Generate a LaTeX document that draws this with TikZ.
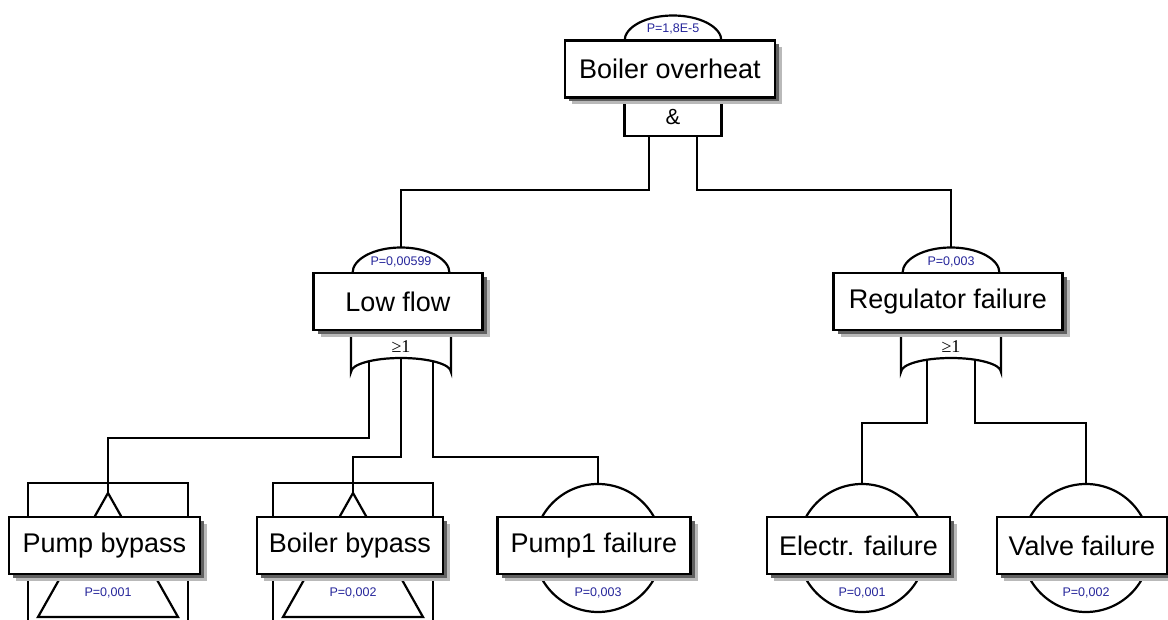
\documentclass[tikz,border=0pt]{standalone}
\usepackage{fontspec}
\setmainfont{Liberation Sans}
\newfontfamily\gatefont{Liberation Serif}
\usetikzlibrary{calc,shadows}
\definecolor{probblue}{RGB}{38,38,155}

\tikzset{
    evbox/.style={draw, line width=2.5pt, fill=white, minimum height=57pt, inner sep=0pt,
        font=\fontsize{27}{30}\selectfont,
        general shadow={fill=gray!55, shadow xshift=7pt, shadow yshift=-7pt},
        general shadow={fill=black!62, shadow xshift=4pt, shadow yshift=-4pt}},
    prob/.style={text=probblue, inner sep=0pt, font=\fontsize{12.5}{14}\selectfont},
    sym/.style={line width=2.2pt},
    wire/.style={line width=2.2pt},
}

\begin{document}
\begin{tikzpicture}[x=1pt, y=1pt]
    \useasboundingbox (0,0) rectangle (1168,619);

    \coordinate (T) at (673,578);
    \coordinate (LF) at (401,346);
    \coordinate (RF) at (951,346);
    \coordinate (PB) at (108,71);
    \coordinate (BB) at (353,71);
    \coordinate (P1) at (598,71);
    \coordinate (EF) at (862,71);
    \coordinate (VF) at (1086,71);

    % heights of the horizontal runs
    \coordinate (hT) at (0,429);
    \coordinate (hL1) at (0,181);
    \coordinate (hL2) at (0,162);
    \coordinate (hR) at (0,196);

    \coordinate (Tout1) at ($(T)+(-24,-95)$);
    \coordinate (Tout2) at ($(T)+(24,-95)$);
    \coordinate (LFin) at ($(LF)+(0,25.5)$);
    \coordinate (RFin) at ($(RF)+(0,25.5)$);
    \coordinate (LFout1) at ($(LF)+(0,-99)+(129.8:50 and 14)$);
    \coordinate (LFout2) at ($(LF)+(0,-99)+(90:50 and 14)$);
    \coordinate (LFout3) at ($(LF)+(0,-99)+(50.2:50 and 14)$);
    \coordinate (RFout1) at ($(RF)+(0,-99)+(118.7:50 and 14)$);
    \coordinate (RFout2) at ($(RF)+(0,-99)+(61.3:50 and 14)$);
    \coordinate (PBin) at ($(PB)+(0,55)$);
    \coordinate (BBin) at ($(BB)+(0,55)$);
    \coordinate (P1in) at ($(P1)+(0,64)$);
    \coordinate (EFin) at ($(EF)+(0,64)$);
    \coordinate (VFin) at ($(VF)+(0,64)$);

    \foreach \a/\b/\h in {Tout1/LFin/hT, Tout2/RFin/hT, LFout1/PBin/hL1, LFout2/BBin/hL2,
        LFout3/P1in/hL2, RFout1/EFin/hR, RFout2/VFin/hR}
        \draw[wire] (\a) -- (\a |- \h) -| (\b);

    \foreach \g in {T,LF,RF}
        \draw[sym, fill=white] ($(\g)+(-48.5,0)$) arc[start angle=180, end angle=0, x radius=48.5, y radius=25.5];

    % and gate
    \draw[sym, fill=white] ($(T)+(-48.5,-56)$) rectangle ($(T)+(48.5,-95)$);
    % or gates
    \foreach \g in {LF,RF}
        \draw[sym] ($(\g)+(-50,-57)$) -- ($(\g)+(-50,-99)$)
            arc[start angle=180, end angle=0, x radius=50, y radius=14] -- ($(\g)+(50,-57)$);

    \foreach \e in {P1,EF,VF}
        \draw[sym, fill=white] (\e) circle (64);

    % transfer in
    \foreach \e in {PB,BB} {
        \draw[sym] ($(\e)+(-80,-80)$) -- ($(\e)+(-80,65)$) -- ($(\e)+(80,65)$) -- ($(\e)+(80,-80)$);
        \draw[sym, fill=white] ($(\e)+(0,55)$) -- ($(\e)+(-70,-69)$) -- ($(\e)+(70,-69)$) -- cycle;
    }

    \node[evbox, minimum width=210pt] (top) at ($(T)+(-3,-28)$) {Boiler overheat};
    \node[evbox, minimum width=169pt] (lowflow) at ($(LF)+(-3,-28.5)$) {Low flow};
    \node[evbox, minimum width=229pt] (regfail) at ($(RF)+(-3,-28.5)$) {Regulator failure};
    \node[evbox, minimum width=191pt] (pumpbyp) at ($(PB)+(-3.5,2.5)$) {Pump bypass};
    \node[evbox, minimum width=186pt] (boilbyp) at ($(BB)+(-3,2.5)$) {Boiler bypass};
    \node[evbox, minimum width=193pt] (pumpfail) at ($(P1)+(-4,2.5)$) {Pump1 failure};
    \node[evbox, minimum width=183pt] (electrfail) at ($(EF)+(-3.5,2.5)$) {Electr. failure};
    \node[evbox, minimum width=170pt] (valvefail) at ($(VF)+(-4,2.5)$) {Valve failure};

    \node[font=\fontsize{22}{24}\selectfont, inner sep=0pt] (andsign) at ($(T)+(0,-76)$) {\&};
    \node[font=\gatefont\fontsize{18}{20}\selectfont, inner sep=0pt] (lfor) at ($(LF)+(0,-74)$) {≥1};
    \node[font=\gatefont\fontsize{18}{20}\selectfont, inner sep=0pt] (rfor) at ($(RF)+(0,-74)$) {≥1};

    \node[prob] (Tp) at ($(T)+(0,12)$) {P=1,8E-5};
    \node[prob] (LFp) at ($(LF)+(0,11)$) {P=0,00599};
    \node[prob] (RFp) at ($(RF)+(0,11)$) {P=0,003};
    \node[prob] (PBp) at ($(PB)+(0,-45)$) {P=0,001};
    \node[prob] (BBp) at ($(BB)+(0,-45)$) {P=0,002};
    \node[prob] (P1p) at ($(P1)+(0,-45)$) {P=0,003};
    \node[prob] (EFp) at ($(EF)+(0,-45)$) {P=0,001};
    \node[prob] (VFp) at ($(VF)+(0,-45)$) {P=0,002};
\end{tikzpicture}
\end{document}
